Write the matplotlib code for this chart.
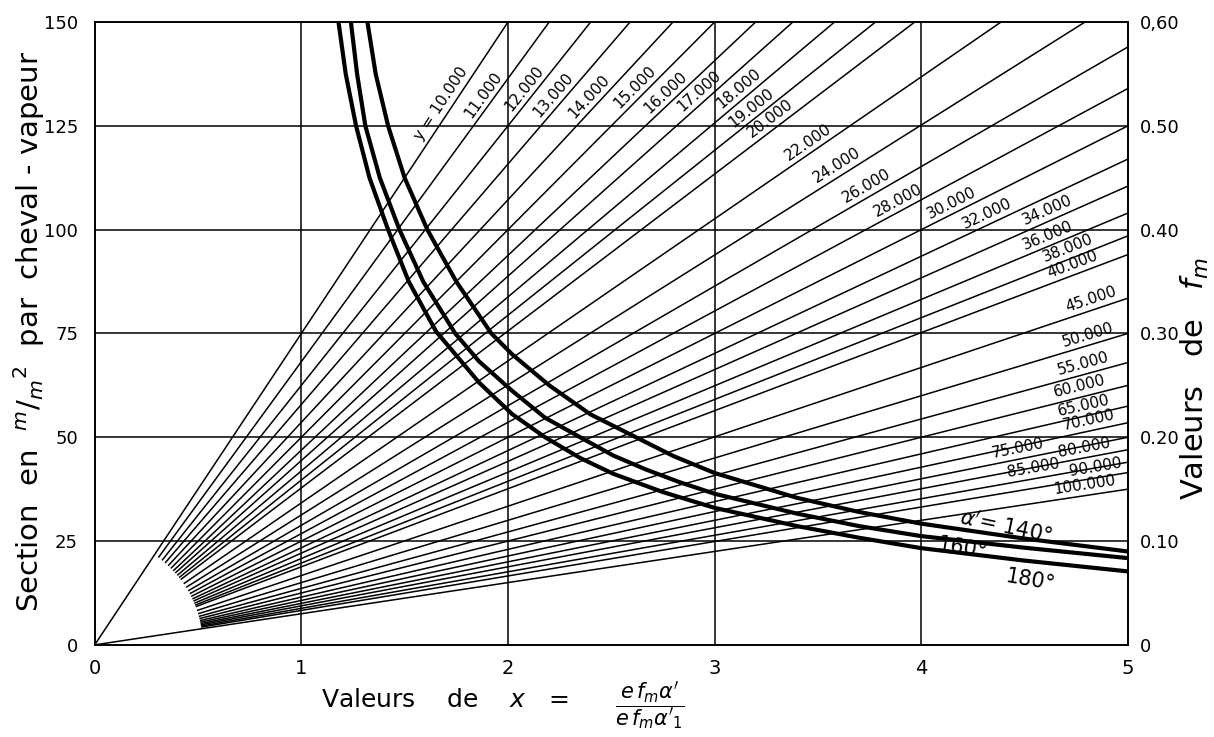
import numpy as np
import matplotlib.pyplot as plt

# radial lines: value of y and slope of the line (section per unit of x)
y_labels = ["10.000", "11.000", "12.000", "13.000", "14.000", "15.000", "16.000",
            "17.000", "18.000", "19.000", "20.000", "22.000", "24.000", "26.000",
            "28.000", "30.000", "32.000", "34.000", "36.000", "38.000", "40.000",
            "45.000", "50.000", "55.000", "60.000", "65.000", "70.000", "75.000",
            "80.000", "85.000", "90.000", "100.000"]
slopes = [75.0, 68.2, 62.5, 57.9, 53.6, 50.0, 46.9, 44.4, 41.9, 39.7, 37.8,
          34.2, 31.3, 28.8, 26.8, 25.0, 23.4, 22.1, 20.8, 19.7, 18.8,
          16.7, 15.0, 13.6, 12.5, 11.5, 10.7, 10.0, 9.4, 8.8, 8.3, 7.5]
# x position of the label of each line
label_x = [1.72, 1.92, 2.12, 2.26, 2.43, 2.65, 2.80, 2.96, 3.15, 3.21, 3.30,
           3.48, 3.62, 3.76, 3.91, 4.17, 4.34, 4.63, 4.63, 4.73, 4.75,
           4.84, 4.82, 4.80, 4.78, 4.80, 4.82, 4.48, 4.80, 4.55, 4.85, 4.80]

# the three thick curves alpha' = 140, 160, 180 degrees
c140_x = [1.32, 1.36, 1.42, 1.50, 1.61, 1.75, 1.92, 2.02, 2.20, 2.40, 2.62, 2.80, 3.00,
          3.40, 3.70, 4.00, 4.50, 5.00]
c140_y = [150.0, 137.5, 125.0, 112.5, 100.0, 87.5, 75.0, 70.0, 62.5, 55.5, 50.0, 45.5, 41.4,
          35.4, 32.0, 29.2, 25.6, 22.5]
c160_x = [1.24, 1.27, 1.31, 1.38, 1.475, 1.59, 1.745, 1.86, 2.02, 2.18, 2.35, 2.51, 2.67,
          2.83, 3.00, 3.40, 3.70, 4.00, 4.50, 5.00]
c160_y = [150.0, 137.5, 125.0, 112.5, 100.0, 87.5, 75.0, 68.3, 61.2, 54.7, 50.0, 45.6, 42.2,
          39.2, 36.4, 31.6, 28.6, 26.2, 23.4, 20.9]
c180_x = [1.18, 1.215, 1.265, 1.33, 1.42, 1.52, 1.652, 1.862, 2.02, 2.18, 2.35, 2.51, 2.75,
          3.00, 3.40, 3.70, 4.00, 4.50, 5.00]
c180_y = [150.0, 137.5, 125.0, 112.5, 100.0, 87.5, 75.5, 63.1, 55.6, 50.0, 45.0, 41.2, 36.8,
          33.0, 28.6, 25.8, 23.3, 20.3, 17.7]

left_ticks = [0, 25, 50, 75, 100, 125, 150]
left_tick_labels = ["0", "25", "50", "75", "100", "125", "150"]
right_ticks = [0, 0.10, 0.20, 0.30, 0.40, 0.50, 0.60]
right_tick_labels = ["0", "0.10", "0.20", "0.30", "0.40", "0.50", "0,60"]
x_ticks = [0, 1, 2, 3, 4, 5]

fig = plt.figure(figsize=(12.14, 7.37), dpi=100)
ax = fig.add_axes([0.078, 0.125, 0.851, 0.845])
ax.set_xlim(0, 5)
ax.set_ylim(0, 150)

for s in ax.spines.values():
    s.set_linewidth(1.4)

ax.set_xticks(x_ticks)
ax.set_xticklabels([str(t) for t in x_ticks], fontsize=14)
ax.set_yticks(left_ticks)
ax.set_yticklabels(left_tick_labels, fontsize=13)
ax.tick_params(length=0)
ax.tick_params(axis="x", pad=10)
ax.tick_params(axis="y", pad=12)

# grid
for gx in [1, 2, 3, 4]:
    ax.axvline(gx, color="black", lw=1.1)
for gy in [25, 50, 75, 100, 125]:
    ax.axhline(gy, color="black", lw=1.1)

# pixels per data unit, to place the start arc and rotate labels
p0 = ax.transData.transform((0, 0))
px_x = ax.transData.transform((1, 0))[0] - p0[0]
px_y = ax.transData.transform((0, 1))[1] - p0[1]
r_start = 108  # radius of the start arc, in pixels

for i, (lab, s) in enumerate(zip(y_labels, slopes)):
    x_end = min(5.0, 150.0 / s)
    if i == 0 or i == len(slopes) - 1:
        x_start = 0.0
    else:
        x_start = r_start / np.hypot(px_x, s * px_y)
    ax.plot([x_start, x_end], [s * x_start, s * x_end], color="black", lw=1.1,
            solid_capstyle="butt")
    ang = np.arctan2(s * px_y, px_x)
    txt = ("y = " + lab) if i == 0 else lab
    off = 3
    ax.annotate(txt, (label_x[i], s * label_x[i]),
                xytext=(-off * np.sin(ang), off * np.cos(ang)), textcoords="offset pixels",
                rotation=np.degrees(ang), rotation_mode="anchor",
                ha="center", va="bottom", fontsize=11)

for cx, cy in [(c140_x, c140_y), (c160_x, c160_y), (c180_x, c180_y)]:
    ax.plot(cx, cy, color="black", lw=3.0, solid_capstyle="butt", solid_joinstyle="round")

ax.text(4.41, 28.6, r"$\alpha'$= 140°", rotation=-12, ha="center", va="center", fontsize=15)
ax.text(4.20, 23.3, "160°", rotation=-10, ha="center", va="center", fontsize=15)
ax.text(4.53, 15.4, "180°", rotation=-10, ha="center", va="center", fontsize=15)

ax2 = ax.twinx()
ax2.set_ylim(0, 0.60)
ax2.set_yticks(right_ticks)
ax2.set_yticklabels(right_tick_labels, fontsize=13)
ax2.tick_params(length=0, pad=9)
for s in ax2.spines.values():
    s.set_visible(False)

fig.text(0.024, 0.55, r"Section  en  $^{m}/_{m}{}^{2}$  par  cheval - vapeur",
         rotation=90, ha="center", va="center", fontsize=21)
fig.text(0.984, 0.487, r"Valeurs   de   $f_{m}$", rotation=90, ha="center",
         va="center", fontsize=22)
fig.text(0.366, 0.05, r"Valeurs    de    $x$   =", ha="center", va="center", fontsize=18)
fig.text(0.535, 0.043, r"$\dfrac{e\,f_m\alpha'}{e\,f_m\alpha'_{1}}$",
         ha="center", va="center", fontsize=15)

fig.savefig("out.png", dpi=100, facecolor="white")
